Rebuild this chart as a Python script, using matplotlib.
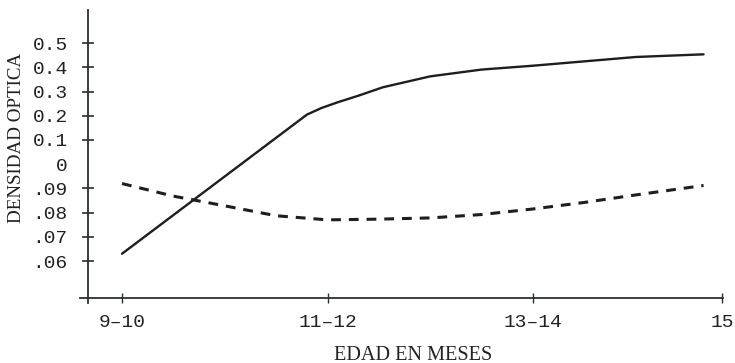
import matplotlib
matplotlib.use("Agg")
import matplotlib.pyplot as plt
import numpy as np

# Age groups (categorical positions along the x axis)
age_labels = ["9\u201310", "11\u201312", "13\u201314", "15"]
age_ticks = [0, 1, 2, 2.92]

# Solid curve: optical density vs. age position
solid_x = [0, 0.9, 0.97, 1.05, 1.15, 1.27, 1.5, 1.75, 2.0, 2.25, 2.5, 2.83]
solid_y = [0.063, 0.205, 0.232, 0.256, 0.283, 0.318, 0.363, 0.391, 0.407,
           0.425, 0.443, 0.454]

# Dashed curve: optical density vs. age position
dashed_x = [0, 0.25, 0.5, 0.75, 1.0, 1.25, 1.5, 1.75, 2.0, 2.25, 2.5, 2.83]
dashed_y = [0.092, 0.0868, 0.0828, 0.0787, 0.077, 0.0773, 0.0778, 0.0792,
            0.0815, 0.0842, 0.0873, 0.0912]

# Broken y scale: lower segment .06-.09, upper segment 0-0.5
lower_ticks = [0.06, 0.07, 0.08, 0.09]
lower_labels = [".06", ".07", ".08", ".09"]
upper_ticks = [0, 0.1, 0.2, 0.3, 0.4, 0.5]
upper_labels = ["0", "0.1", "0.2", "0.3", "0.4", "0.5"]


def lower_pos(v):
    return (v - 0.06) * 100


def upper_pos(v):
    return 4 + v * 10


def to_pos(v):
    return upper_pos(v) if v >= 0.1 else lower_pos(v)


W, H, DPI = 735, 363, 100
fig = plt.figure(figsize=(W / DPI, H / DPI), dpi=DPI)
ax = fig.add_axes([0, 0, 1, 1])

# pixel geometry of the plotting frame
px_per_x = 205.5
x0_px = 122
px_per_pos = 24.2
pos0_px = 261


def xdata(px):
    return (px - x0_px) / px_per_x


def ydata(py):
    return (pos0_px - py) / px_per_pos


ax.set_xlim(xdata(0), xdata(W))
ax.set_ylim(ydata(H), ydata(0))
ax.patch.set_visible(False)

ink = "#1e1e1e"
axis_ink = "#2a2f33"

ax.plot(solid_x, [to_pos(v) for v in solid_y], color=ink, lw=1.7,
        solid_capstyle="round", solid_joinstyle="round")
ax.plot(dashed_x, [to_pos(v) for v in dashed_y], color=ink, lw=2.2,
        dashes=(3.2, 2.6))

# axes lines
for s in ["top", "right"]:
    ax.spines[s].set_visible(False)
ax.spines["left"].set_position(("data", xdata(88)))
ax.spines["left"].set_bounds(ydata(303), ydata(10))
ax.spines["bottom"].set_position(("data", ydata(298)))
ax.spines["bottom"].set_bounds(xdata(80), xdata(723))
for s in ["left", "bottom"]:
    ax.spines[s].set_color(axis_ink)
    ax.spines[s].set_linewidth(1.3)

ytick_pos = [lower_pos(v) for v in lower_ticks] + [upper_pos(v) for v in upper_ticks]
ytick_lab = lower_labels + upper_labels
ax.set_yticks(ytick_pos)
ax.set_yticklabels(ytick_lab, family="Liberation Mono", fontsize=14, color="#222")
ax.tick_params(axis="y", direction="inout", length=9, width=1.2, color=axis_ink, pad=10)
for t, lab in zip(ax.yaxis.get_major_ticks(), ytick_lab):
    if lab == "0":
        t.tick1line.set_visible(False)

ax.set_xticks(age_ticks)
ax.set_xticklabels(age_labels, family="Liberation Mono", fontsize=14, color="#222")
ax.tick_params(axis="x", direction="inout", length=7, width=1.0, color=axis_ink, pad=8)

fig.text(413 / W, 1 - 355 / H, "EDAD EN MESES", family="Liberation Serif",
         fontsize=14.6, color="#222", ha="center", va="center")
fig.text(17 / W, 1 - 138 / H, "DENSIDAD OPTICA", family="Liberation Serif",
         fontsize=13.7, color="#222", ha="center", va="center", rotation=90)

fig.savefig("out.png", dpi=DPI, facecolor="white")
